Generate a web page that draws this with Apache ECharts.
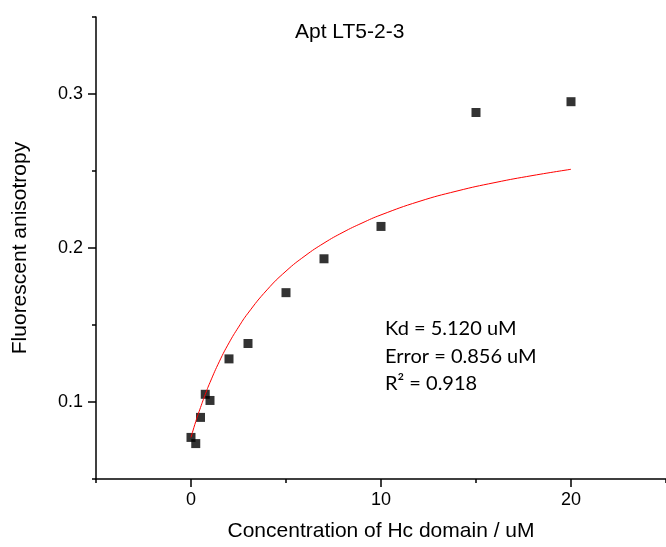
<!DOCTYPE html>
<html>
<head>
<meta charset="utf-8">
<script src="https://cdn.jsdelivr.net/npm/echarts@6/dist/echarts.min.js"></script>
<style>
  html, body { margin: 0; padding: 0; background: #fff; }
  #chart { width: 666px; height: 547px; }
</style>
</head>
<body>
<div id="chart"></div>
<script>
// measured points (concentration uM, anisotropy)
const concX = [0, 0.25, 0.5, 0.75, 1, 2, 3, 5, 7, 10, 15, 20];
const anisoY = [0.077, 0.073, 0.090, 0.105, 0.101, 0.128, 0.138, 0.171, 0.193, 0.214, 0.288, 0.295];

// red fitted curve
const fitX = [0, 0.25, 0.5, 0.75, 1, 1.5, 2, 2.5, 3, 4, 5, 6, 7, 8, 9, 10, 12, 14, 16, 18, 20];
const fitY = [0.0770, 0.0873, 0.0964, 0.1049, 0.1127, 0.1265, 0.1384, 0.1486, 0.1577, 0.1728, 0.1850, 0.1949, 0.2032, 0.2102, 0.2162, 0.2215, 0.2302, 0.2370, 0.2425, 0.2471, 0.2511];

const xMajorTicks = [0, 10, 20];
const xMinorTicks = [-5, 5, 15, 25];
const yMajorTicks = [0.1, 0.2, 0.3];
const yMinorTicks = [0.05, 0.15, 0.25, 0.35];

const chart = echarts.init(document.getElementById("chart"));

const axisFont = { color: "#000", fontFamily: "Liberation Sans", fontSize: 18 };
const nameFont = { color: "#000", fontFamily: "Liberation Sans", fontSize: 21 };
const lineStyle = { color: "#000", width: 1.5 };

const option = {
  animation: false,
  backgroundColor: "#fff",
  title: {
    text: "Apt LT5-2-3",
    left: 290,
    top: 17,
    textStyle: { color: "#000", fontFamily: "Liberation Sans", fontSize: 21, fontWeight: "normal" },
  },
  grid: { left: 96, top: 17, right: -3, bottom: 63 },
  xAxis: [
    {
      type: "value",
      min: -5,
      max: 25,
      interval: 5,
      position: "bottom",
      axisLine: { show: true, onZero: false, lineStyle },
      axisTick: { show: true, length: 8, lineStyle, customValues: xMajorTicks },
      axisLabel: { margin: 12, customValues: xMajorTicks, ...axisFont },
      splitLine: { show: false },
      name: "Concentration of Hc domain / uM",
      nameLocation: "middle",
      nameGap: 42,
      nameTextStyle: nameFont,
    },
    {
      type: "value",
      min: -5,
      max: 25,
      interval: 5,
      position: "bottom",
      offset: 0,
      axisLine: { show: false, onZero: false },
      axisTick: { show: true, length: 4, lineStyle, customValues: xMinorTicks },
      axisLabel: { show: false },
      splitLine: { show: false },
    },
  ],
  yAxis: [
    {
      type: "value",
      min: 0.05,
      max: 0.35,
      interval: 0.05,
      position: "left",
      axisLine: { show: true, onZero: false, lineStyle },
      axisTick: { show: true, length: 8, lineStyle, customValues: yMajorTicks },
      axisLabel: { margin: 13, customValues: yMajorTicks, formatter: (v) => v.toFixed(1), ...axisFont },
      splitLine: { show: false },
      name: "Fluorescent anisotropy",
      nameLocation: "middle",
      nameGap: 65,
      nameTextStyle: nameFont,
    },
    {
      type: "value",
      min: 0.05,
      max: 0.35,
      interval: 0.05,
      position: "left",
      offset: 0,
      axisLine: { show: false, onZero: false },
      axisTick: { show: true, length: 4, lineStyle, customValues: yMinorTicks },
      axisLabel: { show: false },
      splitLine: { show: false },
    },
  ],
  series: [
    {
      type: "scatter",
      symbol: "rect",
      symbolSize: 9,
      itemStyle: { color: "#000" },
      data: concX.map((x, i) => [x, anisoY[i]]),
      z: 2,
    },
    {
      type: "line",
      smooth: true,
      showSymbol: false,
      lineStyle: { color: "#ff0000", width: 1 },
      data: fitX.map((x, i) => [x, fitY[i]]),
      z: 3,
    },
  ],
  graphic: [
    {
      type: "text",
      left: 385,
      top: 315,
      style: {
        text: "Kd = 5.120 uM\nError = 0.856 uM\nR\u00b2 = 0.918",
        fill: "#000",
        font: "20px Lato",
        lineHeight: 27.5,
      },
    },
  ],
};

option && chart.setOption(option);
</script>
</body>
</html>
